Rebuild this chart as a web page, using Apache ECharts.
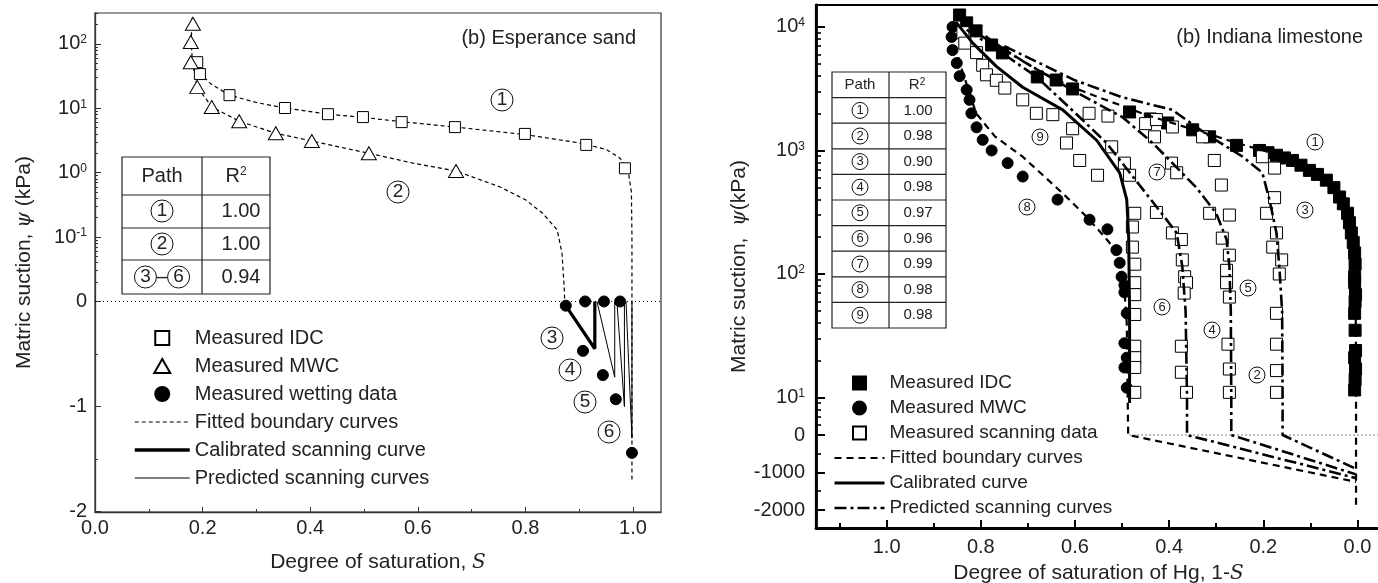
<!DOCTYPE html>
<html>
<head>
<meta charset="utf-8">
<script src="https://cdn.jsdelivr.net/npm/echarts@6/dist/echarts.min.js"></script>
<style>
  html, body { margin: 0; padding: 0; background: #fff; }
  #main { width: 1378px; height: 583px; }
</style>
</head>
<body>
<div id="main"></div>
<script>
var FONT = '"Liberation Sans", Arial, sans-serif';
var chart = echarts.init(document.getElementById('main'));

// ---- left panel: Esperance sand, [S, psi kPa]; psi <= 0 is read on the "0 / -1 / -2" part of the axis
var sandIDC = [[0.19, 52], [0.195, 34], [0.25, 16], [0.353, 10.1], [0.433, 8.1], [0.498, 7.3], [0.57, 6.1],
  [0.669, 5.1], [0.799, 4.0], [0.913, 2.7], [0.985, 1.17]];
var sandMWC = [[0.182, 205], [0.178, 107], [0.178, 52], [0.19, 21.5], [0.217, 10.5], [0.268, 6.3],
  [0.336, 4.1], [0.403, 3.1], [0.509, 2.0], [0.671, 1.06]];
var sandWet = [[0.875, -0.04], [0.911, 0], [0.946, 0], [0.976, 0], [0.907, -0.47], [0.944, -0.70],
  [0.968, -0.93], [0.998, -1.44]];
var sandFitIDC = [[0.188, 60], [0.19, 52], [0.197, 34], [0.215, 24], [0.25, 16], [0.3, 12.3], [0.353, 10.1],
  [0.433, 8.1], [0.5, 7.2], [0.57, 6.2], [0.67, 5.1], [0.8, 3.9], [0.9, 2.9], [0.95, 2.3], [0.975, 1.7],
  [0.99, 1.2], [0.997, 0.5], [0.998, 0.1], [0.998, 0], [0.998, -1.7]];
var sandFitMWC = [[0.18, 250], [0.179, 107], [0.181, 52], [0.19, 21.5], [0.217, 10.5], [0.268, 6.3],
  [0.336, 4.1], [0.403, 3.1], [0.509, 2.0], [0.591, 1.41], [0.671, 1.06], [0.753, 0.6], [0.8, 0.38],
  [0.833, 0.23], [0.859, 0.13], [0.868, 0.056], [0.872, 0.017], [0.873, 0]];
var sandCal = [[0.875, -0.04], [0.929, -0.45], [0.929, 0]];
var sandPred4 = [[0.933, 0], [0.966, -0.72], [0.966, 0]];
var sandPred5 = [[0.97, 0], [0.984, -1.0], [0.984, 0]];
var sandPred6 = [[0.987, 0], [0.998, -1.3], [0.998, 0]];

// ---- right panel: Indiana limestone, [1-S, psi kPa]
var limeIDC = [[0.845, 12500], [0.83, 10800], [0.81, 9300], [0.777, 7150], [0.754, 6170], [0.68, 3940],
  [0.64, 3720], [0.605, 3150], [0.484, 2050], [0.44, 1800], [0.403, 1670], [0.35, 1470], [0.314, 1290],
  [0.257, 1100], [0.208, 1000], [0.19, 960], [0.172, 915], [0.155, 870], [0.138, 830], [0.12, 760],
  [0.102, 690], [0.085, 640], [0.066, 575], [0.05, 500], [0.038, 420], [0.03, 370], [0.021, 310],
  [0.017, 260], [0.013, 215], [0.009, 180], [0.006, 148], [0.005, 120], [0.006, 95], [0.006, 85],
  [0.004, 68], [0.005, 60], [0.006, 48], [0.005, 35], [0.004, 24], [0.006, 21], [0.004, 17],
  [0.005, 14], [0.006, 11.5]];
var limeMWC = [[0.86, 10000], [0.862, 8300], [0.86, 6500], [0.851, 5100], [0.845, 4000], [0.83, 3100],
  [0.824, 2570], [0.82, 2000], [0.809, 1540], [0.796, 1220], [0.777, 1000], [0.743, 790], [0.711, 615],
  [0.637, 400], [0.569, 275], [0.531, 230], [0.512, 156], [0.505, 123], [0.501, 95], [0.495, 81],
  [0.495, 71], [0.49, 48], [0.495, 27.5], [0.49, 21], [0.495, 17.5], [0.49, 12]];
var limeScan = [[0.838, 9000], [0.834, 7400], [0.809, 6200], [0.796, 4900], [0.788, 4100], [0.767, 3700],
  [0.749, 3200], [0.711, 2570], [0.682, 2000], [0.647, 1950], [0.605, 1500], [0.618, 1150], [0.59, 830],
  [0.552, 630], [0.57, 2000], [0.53, 1900], [0.522, 1070], [0.495, 790], [0.484, 630], [0.473, 310],
  [0.478, 240], [0.478, 165], [0.473, 120], [0.473, 85], [0.473, 68], [0.473, 47], [0.473, 26],
  [0.473, 21], [0.473, 17.5], [0.473, 11],
  [0.45, 1650], [0.427, 1780], [0.393, 1550], [0.431, 1290], [0.395, 790], [0.384, 660], [0.427, 315],
  [0.393, 215], [0.374, 190], [0.372, 130], [0.367, 95], [0.363, 85], [0.368, 70], [0.374, 26],
  [0.374, 16], [0.363, 11],
  [0.329, 1290], [0.304, 830], [0.289, 525], [0.314, 310], [0.272, 300], [0.287, 195], [0.272, 142],
  [0.278, 107], [0.278, 85], [0.272, 65], [0.275, 27], [0.272, 17], [0.272, 11],
  [0.202, 890], [0.176, 720], [0.176, 415], [0.193, 310], [0.172, 215], [0.18, 165], [0.161, 130],
  [0.166, 100], [0.172, 48], [0.172, 27], [0.172, 16.5], [0.172, 11]];
var limeFitIDC = [[0.85, 12800], [0.8, 9000], [0.75, 6600], [0.7, 5000], [0.65, 3900], [0.6, 3200],
  [0.55, 2700], [0.5, 2300], [0.45, 1950], [0.4, 1700], [0.35, 1480], [0.3, 1300], [0.25, 1130],
  [0.2, 1000], [0.15, 870], [0.1, 700], [0.06, 530], [0.035, 390], [0.02, 270], [0.01, 160],
  [0.004, 70], [0.003, 20], [0.003, 0], [0.003, -1950]];
var limeFitMWC = [[0.862, 11000], [0.855, 7000], [0.84, 4500], [0.825, 3000], [0.81, 2000], [0.77, 1300],
  [0.711, 890], [0.626, 450], [0.575, 290], [0.527, 180], [0.505, 115], [0.495, 74], [0.49, 40],
  [0.488, 10], [0.487, 0], [0.003, -1250]];
var limeCal = [[0.853, 11000], [0.817, 7400], [0.767, 4800], [0.711, 3250], [0.695, 3000], [0.626, 2130],
  [0.554, 1210], [0.505, 660], [0.49, 400], [0.486, 200], [0.484, 50], [0.484, 9]];
var limePred6 = [[0.83, 9500], [0.75, 6000], [0.68, 3900], [0.59, 1860], [0.533, 1150], [0.463, 525],
  [0.416, 310], [0.384, 215], [0.372, 115], [0.365, 50], [0.362, 10], [0.362, 0], [0.003, -1150]];
var limePred4 = [[0.8, 8500], [0.7, 5000], [0.6, 3000], [0.499, 1860], [0.435, 1150], [0.342, 500],
  [0.3, 310], [0.278, 190], [0.272, 115], [0.269, 50], [0.268, 10], [0.268, 0], [0.003, -1050]];
var limePred2 = [[0.75, 7000], [0.6, 3700], [0.5, 2700], [0.393, 2130], [0.32, 1350], [0.244, 890],
  [0.202, 660], [0.187, 400], [0.172, 215], [0.166, 115], [0.16, 50], [0.159, 10], [0.159, 0],
  [0.003, -900]];

// ---- ticks and tables
var sandTicks = [100, 10, 1, 0.1, 0, -1, -2];
var sandTickText = ['10{s|2}', '10{s|1}', '10{s|0}', '10{s|-1}', '0', '-1', '-2'];
var limeTicks = [10000, 1000, 100, 10, 0, -1000, -2000];
var limeTickText = ['10{s|4}', '10{s|3}', '10{s|2}', '10{s|1}', '0', '-1000', '-2000'];
var sandX = [0, 0.2, 0.4, 0.6, 0.8, 1.0];
var sandXMinor = [0.1, 0.3, 0.5, 0.7, 0.9];
var limeX = [0, 0.2, 0.4, 0.6, 0.8, 1.0];
var limeXMinor = [0.1, 0.3, 0.5, 0.7, 0.9, 1.1];
var sandPaths = ['{c|1}', '{c|2}', '{c|3}\u2013{c|6}'];
var sandR2 = ['1.00', '1.00', '0.94'];
var limePaths = ['1', '2', '3', '4', '5', '6', '7', '8', '9'];
var limeR2 = ['1.00', '0.98', '0.90', '0.98', '0.97', '0.96', '0.99', '0.98', '0.98'];

// y axes are log above zero and linear below it: map psi to axis units
function sandY(p) { return p > 0 ? Math.max(Math.log10(p), -2) : -2 + p * 1.633; }
function limeY(p) { return p > 0 ? Math.max(Math.log10(p), 0.696) : 0.696 + p * 0.0003036; }
function mapY(arr, fy) { return arr.map(function (d) { return [d[0], fy(d[1])]; }); }

function minorLog(lo, hi, fy, extra) {
  var out = [];
  for (var d = -3; d <= 4; d++) {
    for (var k = 2; k <= 9; k++) {
      var v = k * Math.pow(10, d);
      var l = Math.log10(v);
      if (l > lo && l < hi) out.push(fy(v));
    }
  }
  return out.concat(extra.map(fy));
}
var sandMinor = minorLog(-2, 2.48, sandY, [-0.5, -1.5]);
var limeMinor = minorLog(0.7, 4.17, limeY, [-500, -1500]);

function tickLabel(ticks, texts, fy) {
  var vals = ticks.map(fy);
  return function (v) {
    for (var i = 0; i < vals.length; i++) {
      if (Math.abs(v - vals[i]) < 1e-6) return texts[i];
    }
    return '';
  };
}

var supRich = { s: { fontSize: 12, verticalAlign: 'top', lineHeight: 12, fontFamily: FONT, color: '#222' } };
var italic = { i: { fontStyle: 'italic', fontFamily: '"DejaVu Serif", serif', fontSize: 20, color: '#222' } };

var sandYMin = -5.27, sandYMax = 2.48;
var limeYMin = -0.057, limeYMax = 4.178;

function circRich(r, fs) {
  return { c: { width: 2 * r, height: 2 * r, lineHeight: 2 * r, borderRadius: r, borderWidth: 1,
    borderColor: '#111', align: 'center', fontSize: fs, fontFamily: FONT, fill: '#222' } };
}
function circled(n, x, y, r, fs) {
  return { type: 'text', x: x, y: y, z: 50,
    style: { text: '{c|' + n + '}', rich: circRich(r, fs), align: 'center', verticalAlign: 'middle' } };
}
function txt(t, x, y, fs, align, rich) {
  return { type: 'text', x: x, y: y, z: 50,
    style: { text: t, fontSize: fs, fontFamily: FONT, fill: '#222', align: align || 'center',
      verticalAlign: 'middle', rich: rich } };
}
function hline(x1, x2, y, w) {
  return { type: 'line', z: 50, shape: { x1: x1, y1: y, x2: x2, y2: y }, style: { stroke: '#222', lineWidth: w || 1 } };
}
function vline(x, y1, y2, w) {
  return { type: 'line', z: 50, shape: { x1: x, y1: y1, x2: x, y2: y2 }, style: { stroke: '#222', lineWidth: w || 1 } };
}

// tables
var graphics = [];
// left table
graphics.push({ type: 'rect', z: 49, shape: { x: 122, y: 157, width: 148, height: 137 },
  style: { fill: '#fff', stroke: '#222', lineWidth: 1.2 } });
graphics.push(vline(202, 157, 294, 1.2));
[195, 228, 260].forEach(function (y) { graphics.push(hline(122, 270, y, 1.2)); });
graphics.push(txt('Path', 162, 176, 20));
graphics.push(txt('R{s|2}', 236, 176, 20, 'center', supRich));
var sandRowY = [211, 244, 277];
sandPaths.forEach(function (p, i) {
  graphics.push({ type: 'text', x: 162, y: sandRowY[i], z: 50,
    style: { text: p, rich: circRich(11, 19), fontSize: 20, fontFamily: FONT, fill: '#222',
      align: 'center', verticalAlign: 'middle' } });
  graphics.push(txt(sandR2[i], 241, sandRowY[i], 20));
});
// right table
var limeTop = 72, limeRowH = 25.6;
graphics.push({ type: 'rect', z: 49, shape: { x: 832, y: limeTop, width: 114, height: 256 },
  style: { fill: '#fff', stroke: '#222', lineWidth: 1.2 } });
graphics.push(vline(889, limeTop, limeTop + 256, 1.2));
for (var r = 1; r < 10; r++) graphics.push(hline(832, 946, limeTop + r * limeRowH, 1.2));
graphics.push(txt('Path', 860, limeTop + 12.8, 15));
graphics.push(txt('R{s|2}', 917, limeTop + 12.8, 15, 'center',
  { s: { fontSize: 10, verticalAlign: 'top', lineHeight: 10, fontFamily: FONT, color: '#222' } }));
limePaths.forEach(function (p, i) {
  var cy = limeTop + (i + 1.5) * limeRowH;
  graphics.push(circled(p, 860, cy, 8, 13));
  graphics.push(txt(limeR2[i], 918, cy, 15));
});

// circled path numbers on the plots
[['1', 502, 100], ['2', 398, 192], ['3', 552, 338], ['4', 570, 370], ['5', 585, 402], ['6', 609, 432]]
  .forEach(function (c) { graphics.push(circled(c[0], c[1], c[2], 11, 19)); });
[['1', 1315, 142], ['3', 1305, 210], ['9', 1040, 137], ['7', 1157, 172], ['8', 1027, 207],
  ['6', 1162, 307], ['4', 1212, 330], ['5', 1248, 288], ['2', 1257, 375]]
  .forEach(function (c) { graphics.push(circled(c[0], c[1], c[2], 8, 13)); });
graphics.push(txt('(b) Esperance sand', 636, 38, 20, 'right'));
graphics.push(txt('(b) Indiana limestone', 1363, 37, 20, 'right'));

function lineS(name, data, xi, width, type, z) {
  return { name: name, type: 'line', xAxisIndex: xi, yAxisIndex: xi, data: data, symbol: 'none',
    itemStyle: { color: '#000' }, lineStyle: { color: '#000', width: width, type: type }, z: z || 3, silent: true };
}
function scatS(name, data, xi, symbol, size, fill) {
  return { name: name, type: 'scatter', xAxisIndex: xi, yAxisIndex: xi, data: data, symbol: symbol,
    symbolSize: size, itemStyle: { color: fill, borderColor: '#000', borderWidth: 1, opacity: 1 }, z: 4, silent: true };
}

var series = [
  lineS('zero', [[0, sandY(0)], [1.052, sandY(0)]], 0, 1, [1, 3], 1),
  lineS('Fitted boundary curves', mapY(sandFitIDC, sandY), 0, 1.2, [4, 3]),
  lineS('Fitted boundary curves', mapY(sandFitMWC, sandY), 0, 1.2, [4, 3]),
  lineS('Calibrated scanning curve', mapY(sandCal, sandY), 0, 3.2, 'solid'),
  lineS('Predicted scanning curves', mapY(sandPred4, sandY), 0, 1, 'solid'),
  lineS('Predicted scanning curves', mapY(sandPred5, sandY), 0, 1, 'solid'),
  lineS('Predicted scanning curves', mapY(sandPred6, sandY), 0, 1, 'solid'),
  scatS('Measured IDC', mapY(sandIDC, sandY), 0, 'rect', 11, '#fff'),
  scatS('Measured MWC', mapY(sandMWC, sandY), 0, 'triangle', [15, 13], '#fff'),
  scatS('Measured wetting data', mapY(sandWet, sandY), 0, 'circle', 11, '#000'),

  lineS('zero2', [[0.484, limeY(0)], [-0.05, limeY(0)]], 2, 1, [1, 3], 1),
  scatS('Measured IDC#2', mapY(limeIDC, limeY), 2, 'rect', 12, '#000'),
  scatS('Measured MWC#2', mapY(limeMWC, limeY), 2, 'circle', 11, '#000'),
  scatS('Measured scanning data', mapY(limeScan, limeY), 2, 'rect', 12, '#fff'),
  lineS('Fitted boundary curves#2', mapY(limeFitIDC, limeY), 2, 2.2, [7, 5], 5),
  lineS('Fitted boundary curves#2', mapY(limeFitMWC, limeY), 2, 2.2, [7, 5], 5),
  lineS('Calibrated curve', mapY(limeCal, limeY), 2, 3, 'solid', 5),
  lineS('Predicted scanning curves#2', mapY(limePred6, limeY), 2, 2.6, [12, 4, 3, 4], 5),
  lineS('Predicted scanning curves#2', mapY(limePred4, limeY), 2, 2.6, [12, 4, 3, 4], 5),
  lineS('Predicted scanning curves#2', mapY(limePred2, limeY), 2, 2.6, [12, 4, 3, 4], 5)
];

function xAxisMajor(grid, min, max, vals, inverse, color, lw, name, gap) {
  return { type: 'value', gridIndex: grid, position: 'bottom', min: min, max: max, inverse: inverse,
    axisLine: { onZero: false, lineStyle: { color: color, width: lw } },
    axisTick: { inside: true, length: lw > 2 ? 8 : 5, customValues: vals, lineStyle: { color: color, width: lw > 2 ? 2 : 1 } },
    axisLabel: { customValues: vals, formatter: function (v) { return v.toFixed(1); }, fontSize: 20,
      fontFamily: FONT, color: '#222', margin: lw > 2 ? 9 : 6 },
    splitLine: { show: false },
    name: name, nameLocation: 'middle', nameGap: gap,
    nameTextStyle: { fontSize: 21, fontFamily: FONT, color: '#222', rich: italic } };
}
function xAxisMinor(grid, min, max, vals, inverse, color, lw) {
  return { type: 'value', gridIndex: grid, position: 'bottom', min: min, max: max, inverse: inverse,
    axisLine: { show: false, onZero: false }, axisLabel: { show: false }, splitLine: { show: false },
    axisTick: { inside: true, length: lw > 2 ? 5 : 3, customValues: vals, lineStyle: { color: color, width: lw > 2 ? 2 : 1 } } };
}
function yAxisMajor(grid, min, max, ticks, texts, fy, color, lw, name, gap) {
  return { type: 'value', gridIndex: grid, position: 'left', min: min, max: max,
    axisLine: { onZero: false, lineStyle: { color: color, width: lw } },
    axisTick: { inside: true, length: lw > 2 ? 9 : 6, customValues: ticks.map(fy), lineStyle: { color: color, width: lw > 2 ? 2 : 1 } },
    axisLabel: { customValues: ticks.map(fy), formatter: tickLabel(ticks, texts, fy), fontSize: 20,
      fontFamily: FONT, color: '#222', margin: lw > 2 ? 11 : 8, rich: supRich },
    splitLine: { show: false },
    name: name, nameLocation: 'middle', nameGap: gap, nameRotate: 90,
    nameTextStyle: { fontSize: 21, fontFamily: FONT, color: '#222', rich: italic } };
}
function yAxisMinor(grid, min, max, vals, color, lw) {
  return { type: 'value', gridIndex: grid, position: 'left', min: min, max: max,
    axisLine: { show: false, onZero: false }, axisLabel: { show: false }, splitLine: { show: false },
    axisTick: { inside: true, length: lw > 2 ? 5 : 3, customValues: vals, lineStyle: { color: color, width: lw > 2 ? 1.6 : 1 } } };
}

// legend icons: path symbols keep their aspect inside the legend slot
var ICON_SQ = 'path://M0,0H13V13H0Z';
var ICON_TRI = 'path://M8,0L16,14H0Z';
function lineItem(name, width, type) {
  return { name: name, itemStyle: { opacity: 0 }, lineStyle: { color: '#000', width: width, type: type } };
}

var option = {
  animation: false,
  backgroundColor: '#fff',
  textStyle: { fontFamily: FONT },
  grid: [
    { left: 95, top: 13, width: 566, height: 499, show: true, borderColor: '#333', borderWidth: 1.2,
      backgroundColor: 'transparent', outerBoundsMode: 'none', containLabel: false },
    { left: 816, top: 5, width: 565, height: 523, show: true, borderColor: '#000', borderWidth: 2.2,
      backgroundColor: 'transparent', outerBoundsMode: 'none', containLabel: false }
  ],
  xAxis: [
    xAxisMajor(0, 0, 1.052, sandX, false, '#333', 1.3, 'Degree of saturation, {i|S}', 40),
    xAxisMinor(0, 0, 1.052, sandXMinor, false, '#333', 1.3),
    xAxisMajor(1, -0.05, 1.15, limeX, true, '#000', 2.8, 'Degree of saturation of Hg, 1-{i|S}', 35),
    xAxisMinor(1, -0.05, 1.15, limeXMinor, true, '#000', 2.8)
  ],
  yAxis: [
    yAxisMajor(0, sandYMin, sandYMax, sandTicks, sandTickText, sandY, '#333', 1.3, 'Matric suction, {i|ψ} (kPa)', 60),
    yAxisMinor(0, sandYMin, sandYMax, sandMinor, '#333', 1.3),
    yAxisMajor(1, limeYMin, limeYMax, limeTicks, limeTickText, limeY, '#000', 2.8, 'Matric suction,  {i|ψ}(kPa)', 60),
    yAxisMinor(1, limeYMin, limeYMax, limeMinor, '#000', 2.8)
  ],
  legend: [
    { left: 128, top: 322, orient: 'vertical', itemWidth: 55, itemHeight: 14, itemGap: 6, selectedMode: false,
      symbolKeepAspect: true,
      textStyle: { fontSize: 20, lineHeight: 22, fontFamily: FONT, color: '#222' },
      data: [{ name: 'Measured IDC', icon: ICON_SQ }, { name: 'Measured MWC', icon: ICON_TRI },
        { name: 'Measured wetting data', icon: 'circle' }, lineItem('Fitted boundary curves', 1.2, [4, 3]),
        lineItem('Calibrated scanning curve', 3.5, 'solid'), lineItem('Predicted scanning curves', 1, 'solid')] },
    { left: 828, top: 368, orient: 'vertical', itemWidth: 50, itemHeight: 13, itemGap: 5, selectedMode: false,
      symbolKeepAspect: true,
      textStyle: { fontSize: 19, lineHeight: 20, fontFamily: FONT, color: '#222' },
      formatter: function (n) { return n.replace('#2', ''); },
      data: [{ name: 'Measured IDC#2', icon: ICON_SQ }, { name: 'Measured MWC#2', icon: 'circle' },
        { name: 'Measured scanning data', icon: ICON_SQ }, lineItem('Fitted boundary curves#2', 2.2, [7, 5]),
        lineItem('Calibrated curve', 3, 'solid'), lineItem('Predicted scanning curves#2', 2.6, [12, 4, 3, 4])] }
  ],
  graphic: graphics,
  series: series
};

chart.setOption(option);
</script>
</body>
</html>
